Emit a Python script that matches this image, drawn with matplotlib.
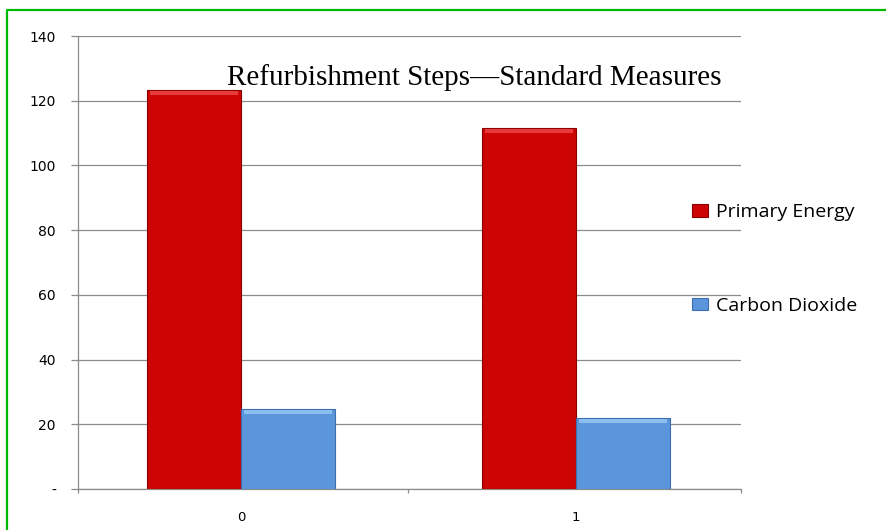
import matplotlib
matplotlib.use('Agg')
import matplotlib.pyplot as plt
from matplotlib.lines import Line2D
from matplotlib.ticker import FixedLocator, FuncFormatter
import numpy as np

# Data
categories = ['0', '1']
primary_energy = [123.3, 111.6]
carbon_dioxide = [24.7, 21.9]
series_names = ['Primary Energy', 'Carbon Dioxide']
yticks = [0, 20, 40, 60, 80, 100, 120, 140]

red = '#CC0404'
red_edge = '#8A0000'
blue = '#5B96DC'
blue_edge = '#3D6DAA'

fig = plt.figure(figsize=(8.86, 5.30), dpi=100)
ax = fig.add_axes([78 / 886, 41 / 530, 663 / 886, 453 / 530])

x = np.arange(len(categories))
w = 0.281
b1 = ax.bar(x - w / 2, primary_energy, w, color=red, edgecolor=red_edge, linewidth=0.8,
            label=series_names[0], zorder=3)
b2 = ax.bar(x + w / 2, carbon_dioxide, w, color=blue, edgecolor=blue_edge, linewidth=0.8,
            label=series_names[1], zorder=3)

# light bevel along the top of each bar
for xs, vals, c in [(x - w / 2, primary_energy, '#E83A3A'), (x + w / 2, carbon_dioxide, '#8DBEF0')]:
    for xi, v in zip(xs, vals):
        ax.bar(xi, 1.2, w * 0.94, bottom=v - 1.6, color=c, linewidth=0, zorder=4)

xlo, xhi = -0.487, 1.493
ax.set_xlim(xlo, xhi)
ax.set_ylim(0, 140)
ax.set_yticks(yticks)
ax.yaxis.set_major_formatter(FuncFormatter(lambda v, p: '-' if v == 0 else f'{int(v)}'))
ax.yaxis.grid(True, color='#8C8C8C', linewidth=0.9, zorder=0)
ax.set_axisbelow(True)

ax.set_xticks(x)
ax.set_xticklabels(categories)
ax.xaxis.set_minor_locator(FixedLocator([xlo, 0.5, xhi]))
ax.tick_params(axis='x', which='major', length=0, pad=16, labelsize=9.5)
ax.tick_params(axis='x', which='minor', length=3, color='#8C8C8C', width=0.9)
ax.tick_params(axis='y', length=5, color='#8C8C8C', width=0.9, pad=11, labelsize=10)

for s in ['top', 'right']:
    ax.spines[s].set_visible(False)
for s in ['left', 'bottom']:
    ax.spines[s].set_color('#8C8C8C')
    ax.spines[s].set_linewidth(0.9)

fig.text(474 / 886, 1 - 85 / 530, 'Refurbishment Steps\u2014Standard Measures',
         family='Liberation Serif', fontsize=21, ha='center', va='baseline')

leg = fig.legend(handles=[b1, b2], loc='upper left', bbox_to_anchor=(692 / 886, 1 - 203 / 530),
                 frameon=False, handlelength=0.8, handleheight=0.65,
                 handletextpad=0.45, labelspacing=3.9, borderaxespad=0, borderpad=0,
                 prop={'family': 'Open Sans', 'size': 14})

# green frame around the chart
fig.add_artist(Line2D([7 / 886, 7 / 886, 1.05], [-0.05, 1 - 10 / 530, 1 - 10 / 530],
                      transform=fig.transFigure, color='#00B800', linewidth=1.6))

fig.savefig('out.png', dpi=100)
